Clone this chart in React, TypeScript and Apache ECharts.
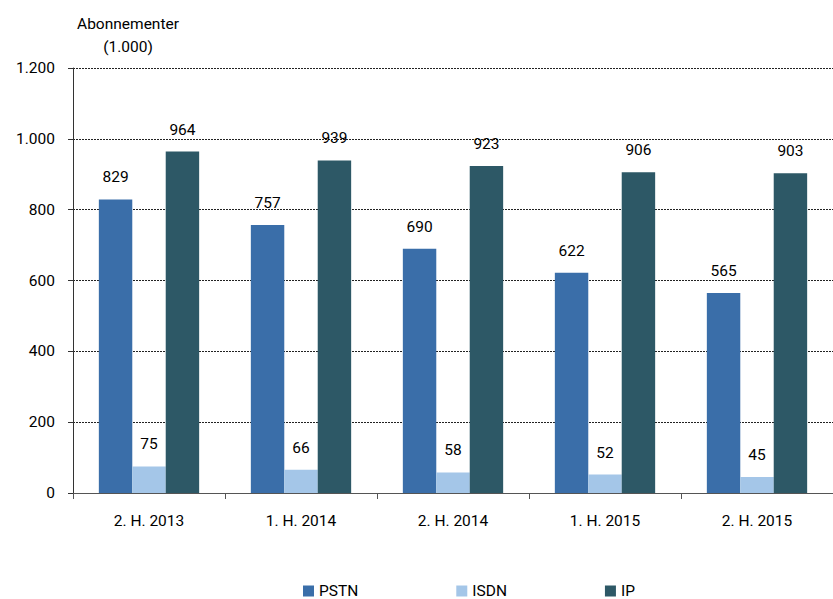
import React, { useEffect, useRef } from "react";
import * as echarts from "echarts";

const categories = ["2. H. 2013", "1. H. 2014", "2. H. 2014", "1. H. 2015", "2. H. 2015"];
const pstn = [829, 757, 690, 622, 565];
const isdn = [75, 66, 58, 52, 45];
const ip = [964, 939, 923, 906, 903];
const seriesNames = ["PSTN", "ISDN", "IP"];
const seriesColors = ["#3A6EA9", "#A4C6E8", "#2D5866"];

const FONT = "Roboto";
const W = "normal";
const TXT = "#000";

export default function App() {
  const ref = useRef<HTMLDivElement>(null);
  useEffect(() => {
    document.body.style.margin = "0";
    if (!ref.current) return;
    const chart = echarts.init(ref.current, null, { renderer: "svg" });
    const fmt = (v: number) => String(v).replace(/\B(?=(\d{3})+(?!\d))/g, ".");
    const mk = (name: string, data: number[], color: string) => ({
      name,
      type: "bar",
      data,
      barGap: "0%",
      barCategoryGap: "34%",
      itemStyle: { color },
      label: {
        show: true,
        position: "top",
        distance: 14,
        color: TXT,
        fontFamily: FONT,
        fontSize: 15.5,
        fontWeight: W,
      },
    });
    chart.setOption({
      animation: false,
      textStyle: { fontFamily: FONT },
      grid: { left: 73, width: 770, top: 68, bottom: 106 },
      graphic: [
        {
          type: "text",
          x: 128,
          y: 12,
          style: {
            text: "Abonnementer\n(1.000)",
            align: "center",
            verticalAlign: "top",
            fill: TXT,
            font: `${W} 15.5px ${FONT}`,
            lineHeight: 23,
          },
        },
      ],
      legend: {
        top: 578,
        left: 298,
        itemGap: 98,
        itemWidth: 11,
        itemHeight: 11,
        icon: "rect",
        textStyle: { fontFamily: FONT, fontSize: 15.5, fontWeight: W, color: TXT },
        data: seriesNames,
      },
      xAxis: {
        type: "category",
        data: categories,
        axisLine: { lineStyle: { color: "#555", width: 1 } },
        axisTick: { show: true, length: 6, lineStyle: { color: "#555" } },
        axisLabel: { color: TXT, fontFamily: FONT, fontSize: 15.5, fontWeight: W, margin: 20 },
      },
      yAxis: {
        type: "value",
        min: 0,
        max: 1200,
        interval: 200,
        axisLine: { show: true, lineStyle: { color: "#333" } },
        axisTick: { show: true, length: 5, lineStyle: { color: "#333" } },
        axisLabel: {
          color: TXT,
          fontFamily: FONT,
          fontSize: 15.5,
          fontWeight: W,
          margin: 18,
          formatter: (v: number) => fmt(v),
        },
        splitLine: { show: true, lineStyle: { color: "#222", type: [2, 1], width: 1 } },
      },
      series: [
        mk(seriesNames[0], pstn, seriesColors[0]),
        mk(seriesNames[1], isdn, seriesColors[1]),
        mk(seriesNames[2], ip, seriesColors[2]),
      ],
    });
    return () => chart.dispose();
  }, []);
  return <div ref={ref} style={{ width: 833, height: 599, overflow: "hidden" }} />;
}
